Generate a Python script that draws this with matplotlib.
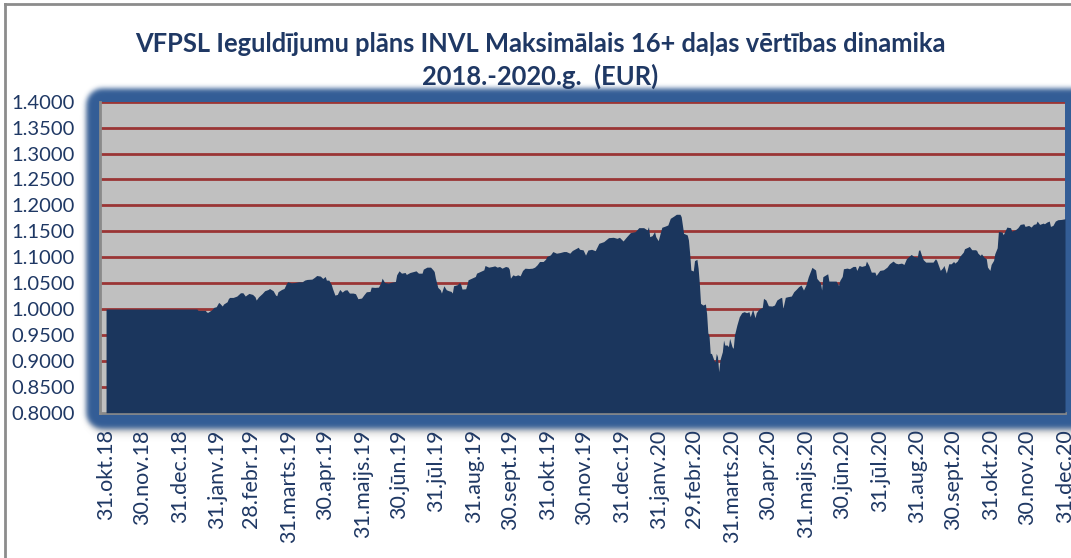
import matplotlib
matplotlib.use('Agg')
import matplotlib.pyplot as plt
import matplotlib.dates as mdates
import matplotlib.transforms as mtransforms
from matplotlib.lines import Line2D
from matplotlib.colors import to_rgb
import numpy as np
import pandas as pd

# ---------------- data ----------------
title_text = "VFPSL Ieguldījumu plāns INVL Maksimālais 16+ daļas vērtības dinamika\n2018.-2020.g.  (EUR)"
start_date = '2018-10-31'

days_since_start = [
    0, 75, 76, 82, 83, 84, 87, 89, 91, 93, 94, 96, 97, 100, 101, 102, 105, 108, 111, 113,
    115, 116, 118, 121, 123, 124, 126, 129, 131, 134, 135, 138, 140, 141, 142, 145, 147, 149, 150, 153,
    156, 159, 162, 164, 166, 170, 172, 174, 177, 179, 181, 182, 184, 186, 187, 189, 191, 193, 195, 197,
    199, 201, 204, 206, 208, 211, 213, 215, 218, 219, 222, 225, 227, 228, 230, 233, 236, 239, 240, 242,
    244, 247, 248, 251, 254, 256, 258, 261, 262, 265, 268, 270, 271, 272, 274, 276, 277, 279, 281, 283,
    285, 286, 287, 290, 292, 293, 294, 297, 298, 299, 302, 305, 306, 309, 312, 313, 316, 319, 321, 323,
    325, 327, 330, 332, 333, 334, 336, 338, 340, 342, 344, 346, 349, 352, 354, 356, 358, 361, 363, 364,
    367, 369, 372, 375, 378, 380, 383, 385, 387, 390, 391, 394, 396, 397,
    398, 401, 404, 407, 411, 415, 419, 422, 424, 427, 430, 433, 437, 440, 444, 447, 448, 449, 451, 453,
    454, 456, 459, 462, 464, 466, 469, 471, 474, 475, 477, 480, 481, 482, 483, 485, 486, 488, 489, 490,
    491, 493, 495, 496, 497, 498, 499, 500, 502, 503, 504, 505, 506, 507, 509, 510, 511, 513, 514, 515,
    517, 518, 519, 521, 523, 525, 527, 529, 531, 532, 534, 536, 537, 539, 542, 543, 545, 547, 550, 552,
    554, 557, 558, 559, 561, 563, 566, 568, 570, 572, 574, 576, 578, 580, 583, 586, 587, 590, 591, 592,
    595, 596, 597, 601, 603, 605, 606, 608, 609, 612, 614, 617, 619, 620, 622, 624, 627, 628, 630, 632,
    635, 636, 639, 642, 645, 647, 650, 652, 654, 657, 659, 661, 663, 665, 667, 670, 671, 672, 674, 675,
    677, 680, 683, 685, 686, 687, 689, 691, 692, 694, 696, 698, 700, 701, 703, 705, 708, 709, 712, 713,
    715, 718, 719, 720, 722, 723, 725, 727, 728, 730, 731, 733, 734, 736, 737, 740, 741, 742, 744, 747,
    748, 751, 753, 755, 758, 759, 762, 764, 766, 768, 769, 771, 774, 775, 777, 779, 780, 782, 784, 786,
    789, 792,
]

unit_values = [
    1.0000, 1.0000, 0.9974, 0.9974, 0.9942, 0.9936, 0.9981, 1.0032, 1.0045, 1.0128, 1.0109, 1.0058, 1.0096, 1.0141, 1.0199, 1.0224, 1.0224, 1.0250, 1.0314, 1.0314,
    1.0250, 1.0269, 1.0301, 1.0282, 1.0237, 1.0173, 1.0237, 1.0301, 1.0353, 1.0378, 1.0397, 1.0353, 1.0269, 1.0256, 1.0333, 1.0378, 1.0397, 1.0494, 1.0526, 1.0506,
    1.0513, 1.0526, 1.0526, 1.0558, 1.0571, 1.0577, 1.0609, 1.0647, 1.0635, 1.0590, 1.0628, 1.0558, 1.0558, 1.0474, 1.0397, 1.0269, 1.0282, 1.0378, 1.0327, 1.0365,
    1.0372, 1.0308, 1.0308, 1.0295, 1.0199, 1.0212, 1.0276, 1.0333, 1.0340, 1.0423, 1.0417, 1.0423, 1.0513, 1.0596, 1.0513, 1.0500, 1.0519, 1.0532, 1.0660, 1.0737,
    1.0692, 1.0705, 1.0667, 1.0705, 1.0724, 1.0737, 1.0692, 1.0692, 1.0769, 1.0808, 1.0808, 1.0756, 1.0724, 1.0596, 1.0417, 1.0372, 1.0308, 1.0449, 1.0372, 1.0353,
    1.0340, 1.0308, 1.0449, 1.0468, 1.0513, 1.0468, 1.0385, 1.0391, 1.0468, 1.0564, 1.0596, 1.0628, 1.0692, 1.0724, 1.0756, 1.0840, 1.0808, 1.0821, 1.0833, 1.0808,
    1.0821, 1.0788, 1.0821, 1.0808, 1.0769, 1.0596, 1.0660, 1.0641, 1.0660, 1.0641, 1.0744, 1.0788, 1.0782, 1.0788, 1.0808, 1.0853, 1.0917, 1.0917, 1.0962, 1.1013,
    1.1045, 1.1109, 1.1077, 1.1090, 1.1109, 1.1109, 1.1077, 1.1128, 1.1154, 1.1192, 1.1154, 1.1141, 1.1040, 1.1090,
    1.1139, 1.1152, 1.1126, 1.1268, 1.1300, 1.1377, 1.1384, 1.1364, 1.1384, 1.1313, 1.1396, 1.1474, 1.1493, 1.1570, 1.1570, 1.1525, 1.1590, 1.1396, 1.1416, 1.1493,
    1.1396, 1.1319, 1.1577, 1.1602, 1.1622, 1.1750, 1.1795, 1.1828, 1.1828, 1.1782, 1.1461, 1.1429, 1.1332, 1.1075, 1.0753, 1.0734, 1.0933, 1.0959, 1.0785, 1.0495,
    1.0109, 1.0077, 1.0097, 0.9916, 0.9543, 0.9485, 0.9144, 0.9144, 0.9015, 0.8983, 0.9144, 0.9080, 0.8790, 0.9015, 0.9176, 0.9402, 0.9305, 0.9305, 0.9273, 0.9434,
    0.9273, 0.9241, 0.9498, 0.9691, 0.9852, 0.9929, 0.9949, 0.9929, 0.9949, 0.9852, 0.9994, 0.9833, 0.9929, 0.9994, 1.0032, 1.0206, 1.0174, 1.0064, 1.0058, 1.0077,
    1.0174, 1.0219, 1.0225, 1.0013, 1.0225, 1.0238, 1.0251, 1.0335, 1.0380, 1.0431, 1.0463, 1.0367, 1.0463, 1.0624, 1.0804, 1.0753, 1.0592, 1.0508, 1.0367, 1.0624,
    1.0667, 1.0680, 1.0539, 1.0539, 1.0539, 1.0455, 1.0551, 1.0629, 1.0777, 1.0790, 1.0777, 1.0822, 1.0822, 1.0745, 1.0841, 1.0822, 1.0841, 1.0925, 1.0841, 1.0712,
    1.0712, 1.0648, 1.0745, 1.0757, 1.0809, 1.0873, 1.0925, 1.0886, 1.0873, 1.0886, 1.0860, 1.0970, 1.1015, 1.1053, 1.1015, 1.1002, 1.1131, 1.1144, 1.1002, 1.0950,
    1.0905, 1.0905, 1.0905, 1.0970, 1.0938, 1.0873, 1.0745, 1.0796, 1.0841, 1.0693, 1.0873, 1.0873, 1.0918, 1.0886, 1.0925, 1.1015, 1.1098, 1.1163, 1.1195, 1.1208,
    1.1144, 1.1144, 1.1131, 1.1079, 1.1034, 1.1066, 1.1002, 1.0970, 1.0809, 1.0745, 1.0860, 1.0938, 1.1066, 1.1182, 1.1497, 1.1485, 1.1433, 1.1485, 1.1581, 1.1568,
    1.1504, 1.1530, 1.1568, 1.1633, 1.1645, 1.1594, 1.1613, 1.1581, 1.1633, 1.1645, 1.1697, 1.1633, 1.1658, 1.1645, 1.1678, 1.1697, 1.1594, 1.1613, 1.1697, 1.1723,
    1.1729, 1.1742,
]
assert len(days_since_start) == len(unit_values)

tick_labels = ['31.okt.18', '30.nov.18', '31.dec.18', '31.janv.19', '28.febr.19', '31.marts.19',
               '30.apr.19', '31.maijs.19', '30.jūn.19', '31.jūl.19', '31.aug.19', '30.sept.19',
               '31.okt.19', '30.nov.19', '31.dec.19', '31.janv.20', '29.febr.20', '31.marts.20',
               '30.apr.20', '31.maijs.20', '30.jūn.20', '31.jūl.20', '31.aug.20', '30.sept.20',
               '31.okt.20', '30.nov.20', '31.dec.20']
y_ticks = [0.80, 0.85, 0.90, 0.95, 1.00, 1.05, 1.10, 1.15, 1.20, 1.25, 1.30, 1.35, 1.40]

# ---------------- styling ----------------
FONT = 'Lato'
TXT = '#1F3864'
AREA = '#1B365D'
BG = '#C0C0C0'
GRID = '#9A3535'
FRAME = '#335D96'

W, H = 1071, 558
fig = plt.figure(figsize=(W / 100, H / 100), dpi=100)
fig.patch.set_facecolor('white')
px = mtransforms.IdentityTransform()


def rounded_mask(x0, y0, x1, y1, r):
    yy, xx = np.mgrid[0:H, 0:W].astype(float)
    cx = np.clip(xx, x0 + r, x1 - r)
    cy = np.clip(yy, y0 + r, y1 - r)
    d = np.hypot(xx - cx, yy - cy)
    return np.clip(r + 0.5 - d, 0, 1)


def blur(a, sigma):
    rad = int(3 * sigma)
    k = np.exp(-0.5 * (np.arange(-rad, rad + 1) / sigma) ** 2)
    k /= k.sum()
    p = np.pad(a, rad, mode='edge')
    tmp = sum(k[i] * p[:, i:i + a.shape[1] + 0] for i in range(2 * rad + 1)) if False else None
    # rows
    out = np.zeros((p.shape[0], a.shape[1]))
    for i in range(2 * rad + 1):
        out += k[i] * p[:, i:i + a.shape[1]]
    res = np.zeros(a.shape)
    for i in range(2 * rad + 1):
        res += k[i] * out[i:i + a.shape[0], :]
    return res


# shadow beneath the frame
sh = blur(rounded_mask(88, 94, 1100, 432, 18), 4.0) * 0.35
img = np.zeros((H, W, 4))
img[..., :3] = 0.35
img[..., 3] = sh
fig.figimage(img, 0, 0, origin='upper', zorder=0)

# blue glowing frame
fm = blur(rounded_mask(86, 88, 1100, 428, 16), 2.5)
img2 = np.zeros((H, W, 4))
img2[..., :3] = to_rgb(FRAME)
img2[..., 3] = fm
fig.figimage(img2, 0, 0, origin='upper', zorder=0)

# outer chart border
fig.add_artist(Line2D([5, 5], [0, H - 4], transform=px, color='#8C8C8C', lw=2, zorder=1))
fig.add_artist(Line2D([5, W], [H - 4, H - 4], transform=px, color='#8C8C8C', lw=2, zorder=1))

ax = fig.add_axes([100 / W, 1 - 412.7 / H, 965 / W, 311 / H], zorder=2)
ax.set_facecolor(BG)

dates = pd.Timestamp(start_date) + pd.to_timedelta(days_since_start, unit='D')
xnum = mdates.date2num(dates.to_pydatetime())
ax.fill_between(xnum, 0.8, unit_values, color=AREA, lw=0, zorder=3)

x_start = mdates.date2num(pd.Timestamp(start_date).to_pydatetime())
ax.set_xlim(x_start - 5, xnum[-1])
ax.set_ylim(0.8, 1.4)

ax.set_yticks(y_ticks)
ax.set_yticklabels([f'{v:.4f}' for v in y_ticks], fontfamily=FONT, fontsize=14.5, color=TXT)
for v in y_ticks[1:]:
    ax.axhline(v, color=GRID, lw=2, zorder=2)

tick_dates = pd.date_range(start_date, periods=len(tick_labels), freq=pd.offsets.MonthEnd())
ax.set_xticks(mdates.date2num(tick_dates.to_pydatetime()))
ax.set_xticklabels(tick_labels, rotation=90, fontfamily=FONT, fontsize=15.5, color=TXT)
ax.tick_params(axis='both', length=0)
ax.tick_params(axis='y', pad=18)
ax.tick_params(axis='x', pad=12)

for s in ['left', 'bottom']:
    ax.spines[s].set_color('#8A8A8A')
    ax.spines[s].set_linewidth(2)
for s in ['top', 'right']:
    ax.spines[s].set_visible(False)

fig.text(540 / W, 1 - 60.5 / H, title_text, ha='center', va='center',
         fontfamily=FONT, fontweight='bold', fontsize=18.4, color=TXT, linespacing=1.35)

fig.savefig('out.png', dpi=100)
